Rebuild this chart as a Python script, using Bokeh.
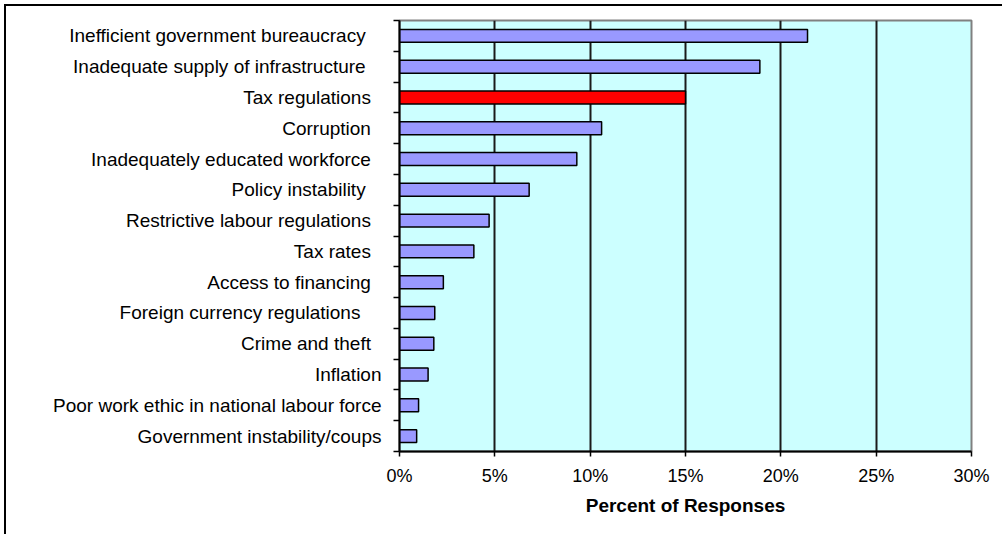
from bokeh.plotting import figure
from bokeh.models import Range1d, FixedTicker, PrintfTickFormatter, ColumnDataSource
from bokeh.embed import file_html
from bokeh.resources import INLINE

# ---- data (top to bottom) ----
categories = [
    "Inefficient government bureaucracy   ",
    "Inadequate supply of infrastructure   ",
    "Tax regulations  ",
    "Corruption  ",
    "Inadequately educated workforce  ",
    "Policy instability   ",
    "Restrictive labour regulations  ",
    "Tax rates  ",
    "Access to financing  ",
    "Foreign currency regulations    ",
    "Crime and theft  ",
    "Inflation",
    "Poor work ethic in national labour force",
    "Government instability/coups",
]
values = [21.4, 18.9, 15.0, 10.6, 9.3, 6.8, 4.7, 3.9, 2.3, 1.85, 1.8, 1.5, 1.0, 0.9]
highlight = "Tax regulations"
x_ticks = [0, 5, 10, 15, 20, 25, 30]
x_title = "Percent of Responses"

FONT = "Liberation Sans"
n = len(categories)
pos = [n - i - 0.5 for i in range(n)]
colors = ["#FF0000" if c.strip() == highlight else "#9999FF" for c in categories]
display = {}
for y, c in zip(pos, categories):
    stripped = c.rstrip(" ")
    display[y] = stripped + "\u00a0" * (len(c) - len(stripped))

src = ColumnDataSource(dict(y=pos, v=values, color=colors))

p = figure(width=998, height=530, x_range=Range1d(0, 30), y_range=Range1d(0, n),
           output_backend="svg", toolbar_location=None,
           min_border_left=393, min_border_right=33, min_border_top=14, min_border_bottom=85)
p.styles = {"margin-left": "4px", "margin-top": "4px",
            "border-left": "2px solid black", "border-top": "2px solid black"}

p.background_fill_color = "#CCFFFF"
p.border_fill_color = "white"
p.outline_line_color = "#808080"
p.outline_line_width = 2

p.ygrid.visible = False
p.xgrid.ticker = FixedTicker(ticks=x_ticks[1:-1])
p.xgrid.grid_line_color = "#1a1a1a"
p.xgrid.grid_line_width = 2

p.hbar(y="y", left=0, right="v", height=0.42, fill_color="color",
       line_color="black", line_width=1.5, source=src)

xa = p.xaxis[0]
xa.ticker = FixedTicker(ticks=x_ticks)
xa.formatter = PrintfTickFormatter(format="%d%%")
xa.major_tick_in = 0
xa.major_tick_out = 5
xa.major_tick_line_color = "black"
xa.major_tick_line_width = 1.5
xa.minor_tick_line_color = None
xa.axis_line_color = "black"
xa.axis_line_width = 2
xa.major_label_text_font = FONT
xa.major_label_text_font_size = "18px"
xa.major_label_text_color = "black"
xa.major_label_standoff = 9
xa.axis_label = x_title
xa.axis_label_text_font = FONT
xa.axis_label_text_font_style = "bold"
xa.axis_label_text_font_size = "19px"
xa.axis_label_text_color = "black"
xa.axis_label_standoff = 6

ya = p.yaxis[0]
ya.ticker = FixedTicker(ticks=pos, minor_ticks=list(range(n + 1)))
ya.major_label_overrides = display
ya.major_tick_line_color = None
ya.major_tick_in = 0
ya.major_tick_out = 0
ya.minor_tick_in = 0
ya.minor_tick_out = 6
ya.minor_tick_line_color = "black"
ya.minor_tick_line_width = 1.5
ya.axis_line_color = "black"
ya.axis_line_width = 2
ya.major_label_text_font = FONT
ya.major_label_text_font_size = "19px"
ya.major_label_text_color = "black"
ya.major_label_standoff = 12

open("out.html", "w").write(file_html(p, INLINE))
